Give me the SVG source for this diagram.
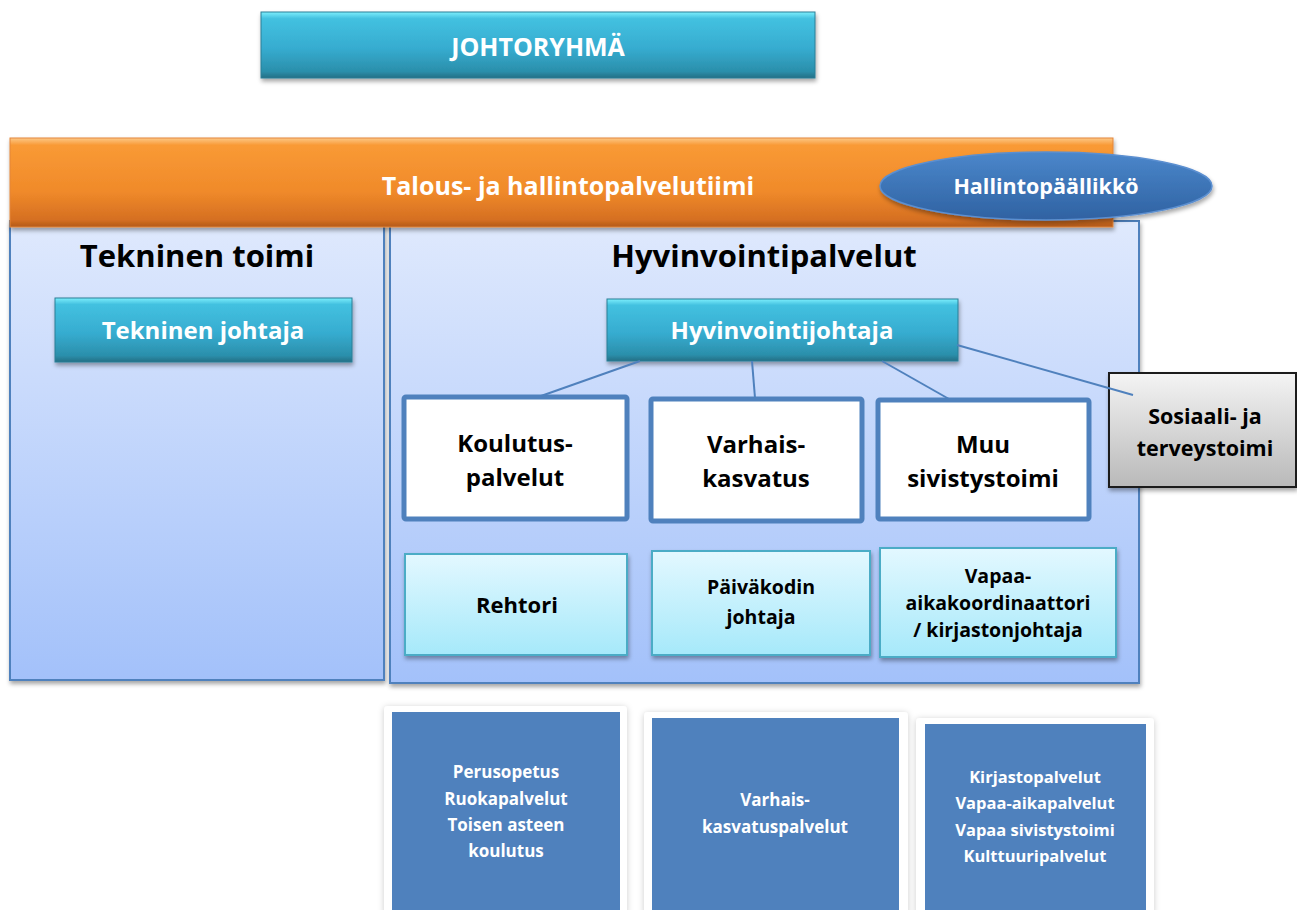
<svg xmlns="http://www.w3.org/2000/svg" width="1297" height="910" viewBox="0 0 1297 910">
<defs>
<linearGradient id="gCyan" x1="0" y1="0" x2="0" y2="1">
<stop offset="0" stop-color="#7ceefc"/><stop offset="0.1" stop-color="#43c1e0"/><stop offset="0.55" stop-color="#36acd0"/><stop offset="0.9" stop-color="#2b8fab"/><stop offset="1" stop-color="#256f85"/>
</linearGradient>
<linearGradient id="gOrange" x1="0" y1="0" x2="0" y2="1">
<stop offset="0" stop-color="#fcc888"/><stop offset="0.08" stop-color="#f99a35"/><stop offset="0.6" stop-color="#f08a2a"/><stop offset="0.92" stop-color="#d56f22"/><stop offset="1" stop-color="#b35a1a"/>
</linearGradient>
<linearGradient id="gPanel" x1="0" y1="0" x2="0" y2="1">
<stop offset="0" stop-color="#dfe9fd"/><stop offset="1" stop-color="#a3c1fa"/>
</linearGradient>
<linearGradient id="gLight" x1="0" y1="0" x2="0" y2="1">
<stop offset="0" stop-color="#e3f8ff"/><stop offset="1" stop-color="#a6e9fa"/>
</linearGradient>
<linearGradient id="gGray" x1="0" y1="0" x2="0" y2="1">
<stop offset="0" stop-color="#f4f4f4"/><stop offset="1" stop-color="#b9b9b9"/>
</linearGradient>
<linearGradient id="gEll" x1="0" y1="0" x2="0" y2="1">
<stop offset="0" stop-color="#4b87cb"/><stop offset="1" stop-color="#2f62a2"/>
</linearGradient>
<filter id="sh" x="-10%" y="-10%" width="125%" height="130%">
<feDropShadow dx="1" dy="3" stdDeviation="2" flood-color="#000" flood-opacity="0.35"/>
</filter>
<filter id="shs" x="-10%" y="-10%" width="120%" height="120%">
<feDropShadow dx="0" dy="1" stdDeviation="3" flood-color="#000" flood-opacity="0.2"/>
</filter>
</defs>
<style>
text{font-family:"Open Sans","Noto Sans","Liberation Sans",sans-serif;font-weight:bold;text-anchor:middle}
.w{fill:#ffffff}
.k{fill:#000000}
.btn{fill:url(#gCyan);stroke:#2b7f96;stroke-width:1}
.panel{fill:url(#gPanel);stroke:#4f81bd;stroke-width:2}
.org{fill:#ffffff;stroke:#4f81bd;stroke-width:5}
.lt{fill:url(#gLight);stroke:#4bacc6;stroke-width:2}
.card{fill:#ffffff}
.inner{fill:#4f81bd}
.conn{stroke:#4f81bd;stroke-width:2;fill:none}
</style>
<rect width="1297" height="910" fill="#ffffff"/>

<g id="johtoryhma">
<rect class="btn" x="261" y="12" width="554" height="66" filter="url(#sh)"/>
<text class="w" x="538" y="56" font-size="25">JOHTORYHMÄ</text>
</g>

<g id="tekninen-toimi">
<rect class="panel" x="10" y="221" width="374" height="459" filter="url(#sh)"/>
<text class="k" x="197" y="267" font-size="31">Tekninen toimi</text>
</g>

<g id="hyvinvointipalvelut">
<rect class="panel" x="390" y="221" width="749" height="462" filter="url(#sh)"/>
<text class="k" x="764" y="267" font-size="31">Hyvinvointipalvelut</text>
</g>

<g id="talous">
<rect x="10" y="138" width="1103" height="89" fill="url(#gOrange)" stroke="#e3853a" stroke-width="1" filter="url(#sh)"/>
<text class="w" x="568" y="195" font-size="25">Talous- ja hallintopalvelutiimi</text>
</g>

<g id="hallintopaallikko">
<ellipse cx="1046" cy="186" rx="166" ry="34" fill="url(#gEll)" stroke="#5b8fd0" stroke-width="1.5" filter="url(#sh)"/>
<text class="w" x="1046" y="194" font-size="21.5">Hallintopäällikkö</text>
</g>

<g id="tekninen-johtaja">
<rect class="btn" x="55" y="298" width="297" height="64" filter="url(#sh)"/>
<text class="w" x="203" y="339" font-size="24">Tekninen johtaja</text>
</g>

<g id="hyvinvointijohtaja">
<rect class="btn" x="607" y="299" width="351" height="62" filter="url(#sh)"/>
<text class="w" x="782" y="339" font-size="24">Hyvinvointijohtaja</text>
</g>

<g id="koulutuspalvelut">
<rect class="org" x="404" y="397" width="223" height="122" rx="2"/>
<text class="k" x="515" y="452" font-size="24">Koulutus-</text>
<text class="k" x="515" y="486" font-size="24">palvelut</text>
</g>

<g id="varhaiskasvatus">
<rect class="org" x="651" y="399" width="211" height="122" rx="2"/>
<text class="k" x="756" y="453" font-size="24">Varhais-</text>
<text class="k" x="756" y="487" font-size="24">kasvatus</text>
</g>

<g id="muu-sivistystoimi">
<rect class="org" x="878" y="400" width="211" height="119" rx="2"/>
<text class="k" x="983" y="453" font-size="24">Muu</text>
<text class="k" x="983" y="487" font-size="24">sivistystoimi</text>
</g>

<g id="sosiaali">
<rect x="1109" y="373" width="187" height="114" fill="url(#gGray)" stroke="#1a1a1a" stroke-width="2" filter="url(#sh)"/>
<text class="k" x="1205" y="424" font-size="21.5">Sosiaali- ja</text>
<text class="k" x="1205" y="456" font-size="21.5">terveystoimi</text>
</g>

<g id="connectors">
<line class="conn" x1="640" y1="361" x2="541" y2="396"/>
<line class="conn" x1="752" y1="361" x2="755" y2="398"/>
<line class="conn" x1="882" y1="361" x2="949" y2="399"/>
<line class="conn" x1="957" y1="345" x2="1133" y2="395"/>
</g>

<g id="rehtori">
<rect class="lt" x="405" y="554" width="222" height="101" filter="url(#sh)"/>
<text class="k" x="517" y="613" font-size="22">Rehtori</text>
</g>

<g id="paivakodin-johtaja">
<rect class="lt" x="652" y="551" width="218" height="104" filter="url(#sh)"/>
<text class="k" x="761" y="594" font-size="19.5">Päiväkodin</text>
<text class="k" x="761" y="624" font-size="19.5">johtaja</text>
</g>

<g id="vapaa-aika">
<rect class="lt" x="880" y="548" width="236" height="109" filter="url(#sh)"/>
<text class="k" x="998" y="583" font-size="19.5">Vapaa-</text>
<text class="k" x="998" y="610" font-size="19.5">aikakoordinaattori</text>
<text class="k" x="998" y="637" font-size="19.5">/ kirjastonjohtaja</text>
</g>

<g id="perusopetus">
<rect class="card" x="384" y="706" width="243" height="210" rx="4" filter="url(#shs)"/>
<rect class="inner" x="392" y="712" width="228" height="198"/>
<text class="w" x="506" y="778" font-size="17">Perusopetus</text>
<text class="w" x="506" y="805" font-size="17">Ruokapalvelut</text>
<text class="w" x="506" y="831" font-size="17">Toisen asteen</text>
<text class="w" x="506" y="857" font-size="17">koulutus</text>
</g>

<g id="varhaiskasvatuspalvelut">
<rect class="card" x="644" y="712" width="264" height="204" rx="4" filter="url(#shs)"/>
<rect class="inner" x="652" y="718" width="247" height="192"/>
<text class="w" x="775" y="806" font-size="17">Varhais-</text>
<text class="w" x="775" y="833" font-size="17">kasvatuspalvelut</text>
</g>

<g id="kirjastopalvelut">
<rect class="card" x="916" y="718" width="238" height="198" rx="4" filter="url(#shs)"/>
<rect class="inner" x="925" y="724" width="221" height="186"/>
<text class="w" x="1035" y="783" font-size="16.5">Kirjastopalvelut</text>
<text class="w" x="1035" y="809" font-size="16.5">Vapaa-aikapalvelut</text>
<text class="w" x="1035" y="836" font-size="16.5">Vapaa sivistystoimi</text>
<text class="w" x="1035" y="862" font-size="16.5">Kulttuuripalvelut</text>
</g>
</svg>
